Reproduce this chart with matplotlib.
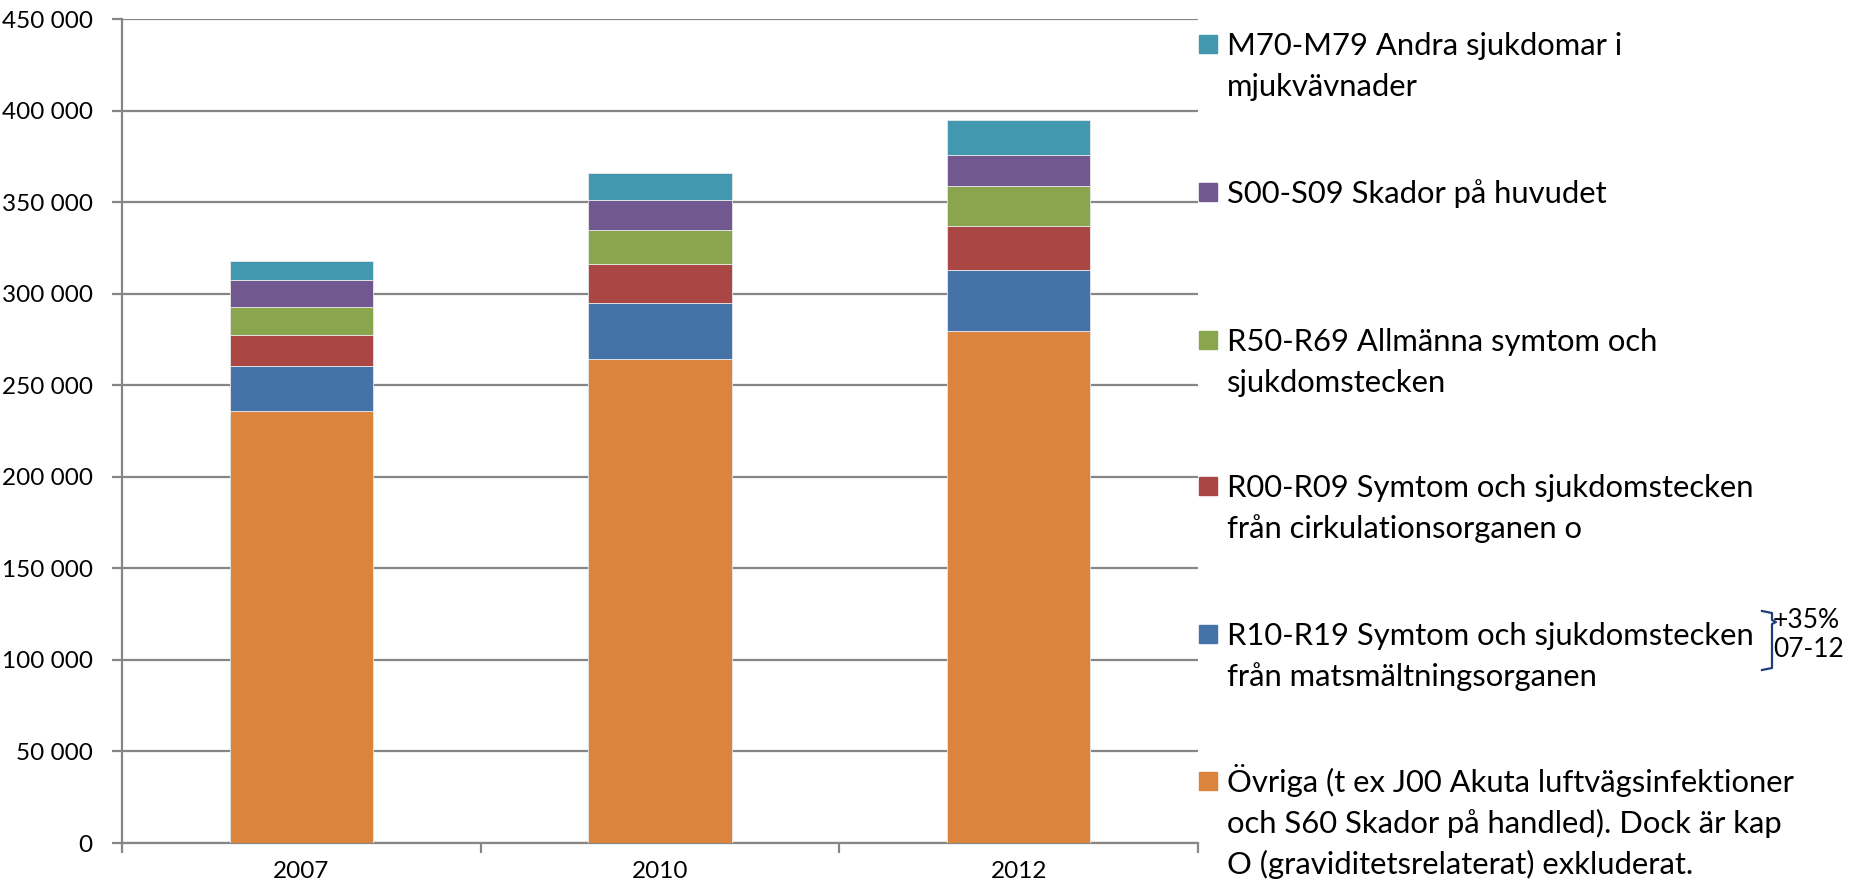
import matplotlib
matplotlib.use("Agg")
import matplotlib.pyplot as plt
import numpy as np

plt.rcParams['font.family'] = ['Lato', 'DejaVu Sans']

years = ['2007', '2010', '2012']
series = [
    'Övriga (t ex J00 Akuta luftvägsinfektioner\noch S60 Skador på handled). Dock är kap\nO (graviditetsrelaterat) exkluderat.',
    'R10-R19 Symtom och sjukdomstecken\nfrån matsmältningsorganen',
    'R00-R09 Symtom och sjukdomstecken\nfrån cirkulationsorganen o',
    'R50-R69 Allmänna symtom och\nsjukdomstecken',
    'S00-S09 Skador på huvudet',
    'M70-M79 Andra sjukdomar i\nmjukvävnader',
]
ovriga = [235800, 264200, 279600]
r10_r19 = [24600, 30900, 33500]
r00_r09 = [17000, 20900, 23800]
r50_r69 = [15300, 18900, 22000]
s00_s09 = [14550, 16000, 16900]
m70_m79 = [10550, 15100, 18900]
values = [ovriga, r10_r19, r00_r09, r50_r69, s00_s09, m70_m79]
colors = ['#DB843D', '#4572A7', '#AA4643', '#89A54E', '#71588F', '#4198AF']
yticks = list(range(0, 450001, 50000))

W, H = 1850, 889
fig = plt.figure(figsize=(W / 100, H / 100), dpi=100)
ax = fig.add_axes([122 / W, 46 / H, 1076 / W, 824 / H])

x = np.arange(len(years))
bottom = np.zeros(len(years))
for vals, col in zip(values, colors):
    ax.bar(x, vals, 0.4, bottom=bottom, color=col, edgecolor='#e8e8e8', linewidth=0.6, zorder=3)
    bottom += np.array(vals)

grid_col = '#868686'
ax.set_xlim(-0.5, 2.5)
ax.set_ylim(0, 450000)
ax.set_yticks(yticks)
ax.set_yticklabels([f'{v:,}'.replace(',', ' ') for v in yticks], fontsize=17.5)
ax.yaxis.grid(True, color=grid_col, linewidth=1.6, zorder=0)
ax.set_xticks(x)
ax.set_xticklabels(years, fontsize=17.5)
ax.set_xticks([-0.5, 0.5, 1.5, 2.5], minor=True)
ax.tick_params(axis='x', which='major', length=0, pad=13)
ax.tick_params(axis='x', which='minor', length=7, width=1.6, color=grid_col, direction='out')
ax.tick_params(axis='y', length=7, width=1.6, color=grid_col, pad=14)
for s in ['top', 'right']:
    ax.spines[s].set_visible(False)
for s in ['left', 'bottom']:
    ax.spines[s].set_color(grid_col)
    ax.spines[s].set_linewidth(1.6)


def fx(px):
    return px / W


def fy(py):
    return 1 - py / H


# legend drawn by hand, top entry first
entry_y = [44, 192, 340, 486, 634, 781]
for i, (lab, col) in enumerate(zip(series[::-1], colors[::-1])):
    cy = entry_y[i]
    fig.patches.append(plt.Rectangle((fx(1199), fy(cy + 9)), 18 / W, 18 / H,
                                     transform=fig.transFigure, color=col))
    for j, line in enumerate(lab.split('\n')):
        fig.text(fx(1227), fy(cy + 11 + 41 * j), line, fontsize=22.3,
                 va='baseline', ha='left', color='black')

# bracket with change note
bx = [1762, 1772, 1772, 1776, 1772, 1772, 1762]
by = [611, 613, 620, 622, 624, 668, 670]
fig.add_artist(plt.Line2D([fx(v) for v in bx], [fy(v) for v in by],
                          transform=fig.transFigure, color='#1F3F7A', linewidth=1.6))
fig.text(fx(1773), fy(628), '+35%', fontsize=19, va='baseline', ha='left')
fig.text(fx(1773), fy(657), '07-12', fontsize=19, va='baseline', ha='left')

fig.savefig('out.png', dpi=100)
